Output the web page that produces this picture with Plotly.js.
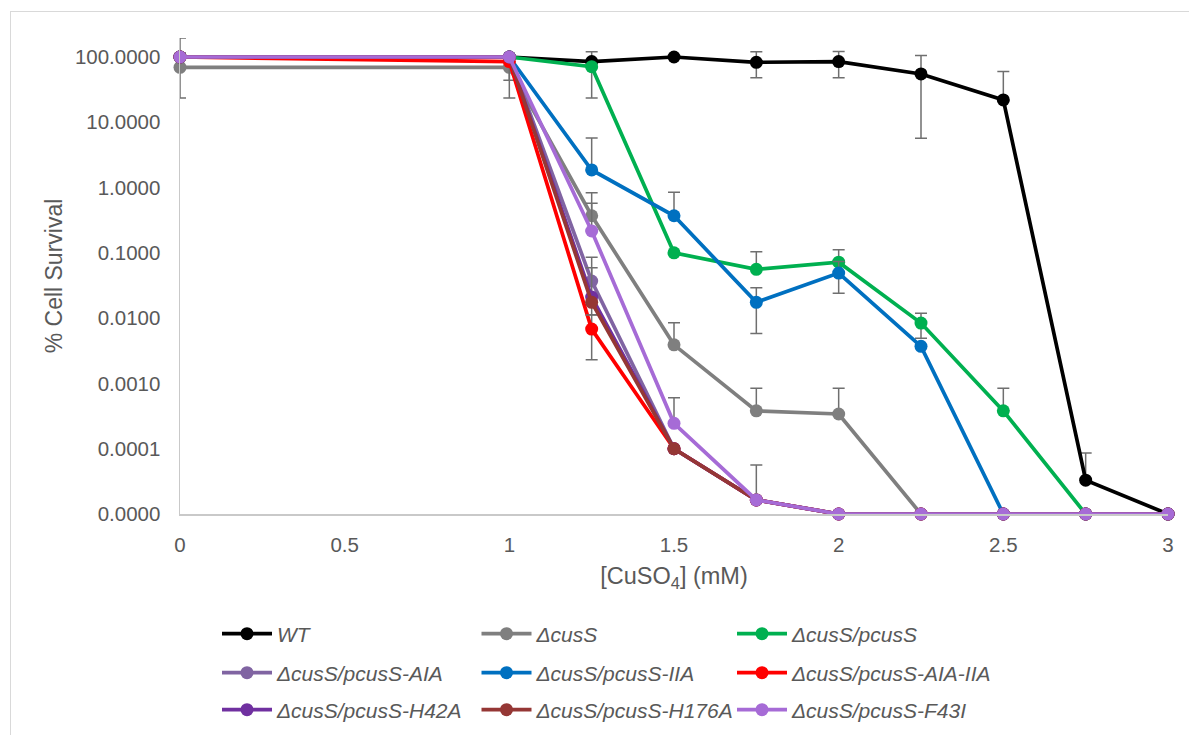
<!DOCTYPE html>
<html>
<head>
<meta charset="utf-8">
<script src="https://cdn.plot.ly/plotly-3.0.1.min.js"></script>
<style>
  html, body { margin: 0; padding: 0; background: #fff; }
  #wrap { position: relative; width: 1189px; height: 735px; }
  #chart { width: 1189px; height: 735px; }
  #frame { position: absolute; left: 10px; top: 11px; right: -5px; bottom: -5px;
           border-left: 1.5px solid #d9d9d9; border-top: 1.5px solid #d9d9d9; pointer-events: none; }
</style>
</head>
<body>
<div id="wrap">
  <div id="chart"></div>
  <div id="frame"></div>
</div>
<script>
// [CuSO4] (mM)
const concentrations = [0, 1, 1.25, 1.5, 1.75, 2, 2.25, 2.5, 2.75, 3];

// Series names
const names = ["WT", "ΔcusS", "ΔcusS/pcusS", "ΔcusS/pcusS-AIA", "ΔcusS/pcusS-IIA",
               "ΔcusS/pcusS-AIA-IIA", "ΔcusS/pcusS-H42A", "ΔcusS/pcusS-H176A", "ΔcusS/pcusS-F43I"];

// % Cell survival (0.00001 = the "0.0000" floor of the log axis)
const wt        = [100, 100, 85, 100, 83, 85, 55, 22, 0.000033, 0.00001];
const dcusS     = [69.5, 69.5, 0.37, 0.0039, 0.00038, 0.00034, 0.00001, 0.00001, 0.00001, 0.00001];
const pcusS     = [100, 100, 71, 0.1, 0.056, 0.072, 0.0084, 0.00038, 0.00001, 0.00001];
const pcusS_AIA = [100, 100, 0.037, 0.0001, 0.0000164, 0.00001, 0.00001, 0.00001, 0.00001, 0.00001];
const pcusS_IIA = [100, 100, 1.86, 0.37, 0.0175, 0.049, 0.0037, 0.00001, 0.00001, 0.00001];
const pcusS_AIA_IIA = [100, 85, 0.0068, 0.0001, 0.0000164, 0.00001, 0.00001, 0.00001, 0.00001, 0.00001];
const pcusS_H42A  = [100, 100, 0.021, 0.0001, 0.0000164, 0.00001, 0.00001, 0.00001, 0.00001, 0.00001];
const pcusS_H176A = [100, 100, 0.0175, 0.0001, 0.0000164, 0.00001, 0.00001, 0.00001, 0.00001, 0.00001];
const pcusS_F43I  = [100, 100, 0.216, 0.000245, 0.0000164, 0.00001, 0.00001, 0.00001, 0.00001, 0.00001];

// Error bars (plus / minus); NaN = no bar
const N = NaN;
const wtPlus  = [95, N, 35, N, 37, 36, 50, 38, 0.000053, N];
const wtMinus = [N, N, N, N, 35, 37, 49.3, N, N, N];
const dcusSPlus  = [46, N, 0.46, 0.0046, 0.00046, 0.0005, N, N, N, N];
const dcusSMinus = [46, 46, N, N, N, N, N, N, N, N];
const pcusSPlus  = [N, N, N, N, 0.048, 0.04, 0.0035, 0.00046, N, N];
const pcusSMinus = [N, N, 47.5, N, N, N, 0.0035, N, N, N];
const aiaPlus  = [N, N, 0.049, N, N, N, N, N, N, N];
const aiaMinus = [N, N, N, N, N, N, N, N, N, N];
const iiaPlus  = [N, N, 3.9, 0.475, 0.0117, 0.025, N, N, N, N];
const iiaMinus = [N, N, N, N, 0.0117, 0.025, N, N, N, N];
const aiaIiaPlus  = [N, N, 0.0045, N, N, N, N, N, N, N];
const aiaIiaMinus = [N, 41, 0.0045, N, N, N, N, N, N, N];
const h42aPlus  = [N, N, 0.038, N, N, N, N, N, N, N];
const h42aMinus = [N, N, N, N, N, N, N, N, N, N];
const h176aPlus  = [N, N, N, N, N, N, N, N, N, N];
const h176aMinus = [N, N, 0.0063, N, N, N, N, N, N, N];
const f43iPlus  = [N, N, 0.36, 0.00036, 0.00004, N, N, N, N, N];
const f43iMinus = [N, N, N, N, N, N, N, N, N, N];

const yTickVals = [0.00001, 0.0001, 0.001, 0.01, 0.1, 1, 10, 100];
const yTickText = ["0.0000", "0.0001", "0.0010", "0.0100", "0.1000", "1.0000", "10.0000", "100.0000"];
const xTickVals = [0, 0.5, 1, 1.5, 2, 2.5, 3];
const xTickText = ["0", "0.5", "1", "1.5", "2", "2.5", "3"];

const colors = ["#000000", "#7f7f7f", "#00b050", "#8064a2", "#0070c0", "#ff0000", "#7030a0", "#953735", "#a66bd6"];
const values = [wt, dcusS, pcusS, pcusS_AIA, pcusS_IIA, pcusS_AIA_IIA, pcusS_H42A, pcusS_H176A, pcusS_F43I];
const plus   = [wtPlus, dcusSPlus, pcusSPlus, aiaPlus, iiaPlus, aiaIiaPlus, h42aPlus, h176aPlus, f43iPlus];
const minus  = [wtMinus, dcusSMinus, pcusSMinus, aiaMinus, iiaMinus, aiaIiaMinus, h42aMinus, h176aMinus, f43iMinus];

const legendId = i => (i === 0 ? "legend" : "legend" + (i + 1));

const traces = names.map((n, i) => ({
  type: "scatter",
  mode: "lines+markers",
  name: n,
  x: concentrations,
  y: values[i],
  legend: legendId(i),
  cliponaxis: false,
  line: { color: colors[i], width: 3.7 },
  marker: { color: colors[i], size: 13 },
  error_y: {
    type: "data", symmetric: false,
    array: plus[i], arrayminus: minus[i],
    color: "#6f6f6f", thickness: 1.5, width: 6
  }
}));

const FONT = "Liberation Sans, Arial, sans-serif";
// legend grid: 3 columns x 3 rows (pixel anchors in the page)
const colX = [217, 476.5, 732];
const rowY = [634, 673, 710];

const layout = {
  width: 1189, height: 735,
  paper_bgcolor: "#ffffff", plot_bgcolor: "#ffffff",
  margin: { l: 180, r: 21, t: 38, b: 221, autoexpand: false },
  font: { family: FONT, color: "#595959" },
  showlegend: true,
  xaxis: {
    range: [0, 3],
    tickvals: xTickVals, ticktext: xTickText,
    showgrid: false, zeroline: false,
    showline: true, linecolor: "#c9c9c9", linewidth: 1.5,
    ticks: "", ticklabelstandoff: 12,
    tickfont: { family: FONT, size: 20.5, color: "#595959" },
    title: { text: "[CuSO<sub>4</sub>] (mM)", font: { family: FONT, size: 23.5, color: "#595959" }, standoff: 12 }
  },
  yaxis: {
    type: "log",
    range: [-5, 2.291],
    tickvals: yTickVals, ticktext: yTickText,
    showgrid: false, zeroline: false,
    showline: true, linecolor: "#c9c9c9", linewidth: 1.5,
    ticks: "", ticklabelstandoff: 14,
    tickfont: { family: FONT, size: 20.5, color: "#595959" },
    title: { text: "% Cell Survival", font: { family: FONT, size: 23, color: "#595959" }, standoff: 6 }
  }
};

names.forEach((n, i) => {
  layout[legendId(i)] = {
    orientation: "h",
    xref: "container", yref: "container",
    x: colX[i % 3] / 1189, xanchor: "left",
    y: 1 - rowY[Math.floor(i / 3)] / 735, yanchor: "middle",
    itemwidth: 50,
    bgcolor: "rgba(0,0,0,0)",
    font: { family: FONT, size: 21, color: "#595959", style: "italic" }
  };
});

Plotly.newPlot("chart", traces, layout, { displayModeBar: false, staticPlot: true });
</script>
</body>
</html>
